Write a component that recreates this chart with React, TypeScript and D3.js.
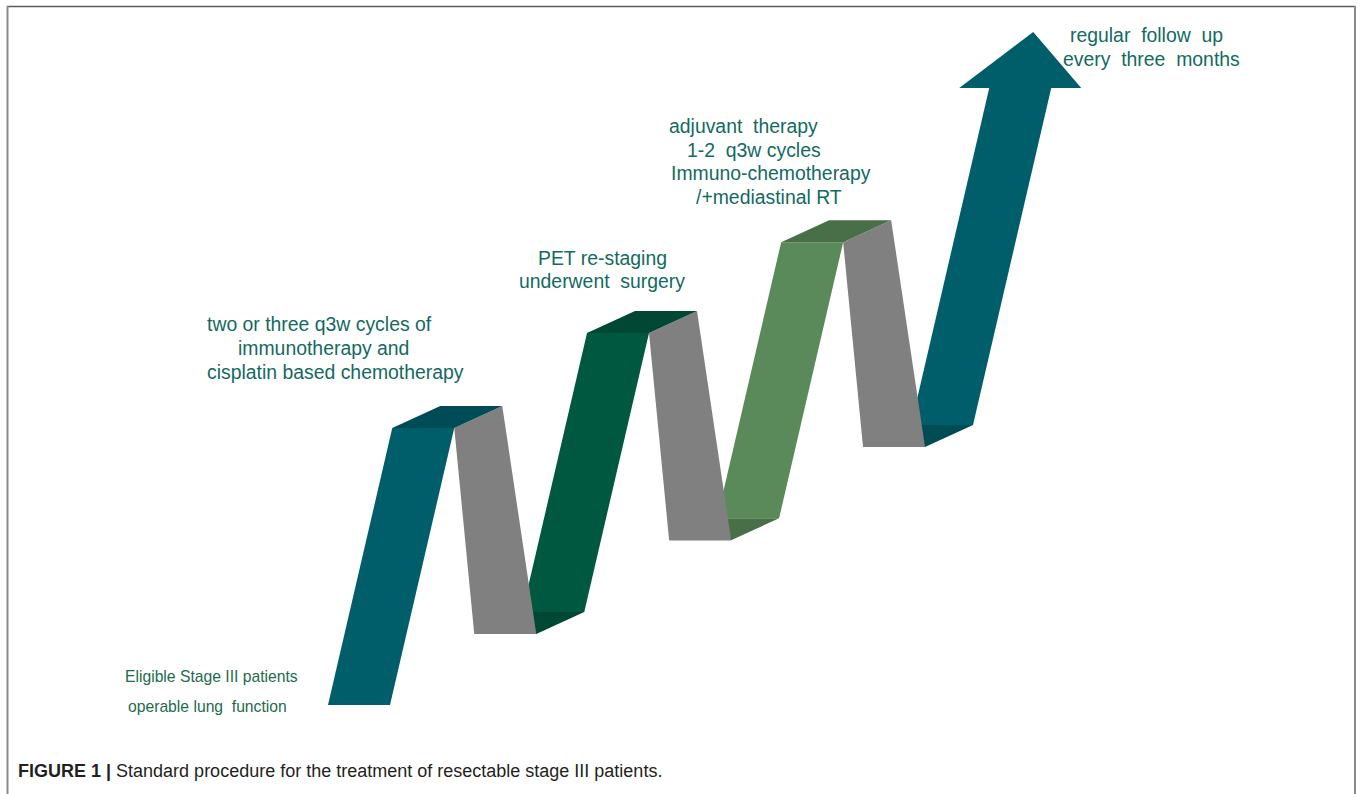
import { line, curveLinearClosed, scaleLinear, color } from "d3";

// progress levels (0 = start of the ribbon, 100 = shaft top of the arrow)
const riserTops = [44.9, 60.3, 75.0, 100];
const descenderBottoms = [11.5, 26.7, 41.8];
const riserColors = ["#005e6a", "#005840", "#5a8a5a", "#005e6a"];
const backColor = "#808080";

const labels = [
  { id: "induction", lines: ["two or three q3w cycles of", "immunotherapy and", "cisplatin based chemotherapy"] },
  { id: "surgery", lines: ["PET re-staging", "underwent  surgery"] },
  { id: "adjuvant", lines: ["adjuvant  therapy", "1-2  q3w cycles", "Immuno-chemotherapy", "/+mediastinal RT"] },
  { id: "followup", lines: ["regular  follow  up", "every  three  months"] },
  { id: "eligible", lines: ["Eligible Stage III patients", "operable lung  function"] }
];

const captionBold = "FIGURE 1 |";
const captionText = " Standard procedure for the treatment of resectable stage III patients.";

const width = 1360;
const height = 794;
const ribbonWidth = 62;
const depth = { x: 48, y: -22 };
const riseLean = 0.232;
const fallLean = 0.097;
const startX = 328;
const headHeight = 56;
const headWing = 30;

const labelLayout: Record<string, { x: number[]; y: number; gap: number; size: number; fill: string }> = {
  induction: { x: [207, 238, 207], y: 331, gap: 24, size: 19.4, fill: "#136a5f" },
  surgery: { x: [538, 519], y: 265, gap: 23, size: 19.4, fill: "#136a5f" },
  adjuvant: { x: [669, 687, 671, 696], y: 133, gap: 23.5, size: 19.4, fill: "#136a5f" },
  followup: { x: [1070, 1063], y: 42, gap: 24, size: 19.4, fill: "#136a5f" },
  eligible: { x: [125, 128], y: 682, gap: 30, size: 15.7, fill: "#1e6b4c" }
};

type Pt = [number, number];
const poly = line<Pt>().curve(curveLinearClosed);

function darker(c: string, k: number) {
  return color(c)?.darker(k).formatHex() ?? c;
}

export default function App() {
  const y = scaleLinear().domain([0, 100]).range([705, 88]);

  const risers: { front: Pt[]; top: Pt[] | null; bottom: Pt[] | null; fill: string }[] = [];
  const backs: Pt[][] = [];
  let x0 = startX;
  let yBottom = y(0);
  let bottomFold: Pt[] | null = null;
  let arrowHead: Pt[] = [];

  riserTops.forEach((lvl, i) => {
    const yTop = y(lvl);
    const xTop = x0 + riseLean * (yBottom - yTop);
    const front: Pt[] = [
      [x0, yBottom],
      [x0 + ribbonWidth, yBottom],
      [xTop + ribbonWidth, yTop],
      [xTop, yTop]
    ];
    const isArrow = i === riserTops.length - 1;
    const top: Pt[] | null = isArrow
      ? null
      : [
          [xTop, yTop],
          [xTop + ribbonWidth, yTop],
          [xTop + ribbonWidth + depth.x, yTop + depth.y],
          [xTop + depth.x, yTop + depth.y]
        ];
    risers.push({ front, top, bottom: bottomFold, fill: riserColors[i] });

    if (isArrow) {
      const cx = xTop + ribbonWidth / 2;
      arrowHead = [
        [xTop - headWing, yTop],
        [cx + riseLean * headHeight, yTop - headHeight],
        [xTop + ribbonWidth + headWing, yTop]
      ];
      return;
    }

    // grey back side going down to the next fold
    const yB = y(descenderBottoms[i]);
    const gx = xTop + ribbonWidth + fallLean * (yB - yTop);
    backs.push([
      [xTop + ribbonWidth, yTop],
      [xTop + ribbonWidth + depth.x, yTop + depth.y],
      [gx + ribbonWidth, yB],
      [gx, yB]
    ]);
    bottomFold = [
      [gx, yB],
      [gx + ribbonWidth, yB],
      [gx + ribbonWidth + depth.x, yB + depth.y],
      [gx + depth.x, yB + depth.y]
    ];
    x0 = gx + depth.x;
    yBottom = yB + depth.y;
  });

  const font = "'Liberation Sans', Arial, sans-serif";

  return (
    <div style={{ position: "fixed", left: 0, top: 0, width, height, background: "#fff" }}>
      <svg width={width} height={height} style={{ display: "block" }}>
        <rect x={0} y={0} width={width} height={height} fill="#fff" />
        <line x1={7} x2={1355.5} y1={6.5} y2={6.5} stroke="#5a5a5a" strokeWidth={1.6} />
        <line x1={7.5} x2={7.5} y1={6} y2={height} stroke="#8a8a8a" strokeWidth={2} />
        <line x1={1355} x2={1355} y1={6} y2={height} stroke="#8a8a8a" strokeWidth={2} />

        {risers.map((r, i) => (
          <g key={`riser-${i}`}>
            {r.bottom ? <path d={poly(r.bottom) ?? ""} fill={darker(r.fill, 0.6)} /> : null}
            <path d={poly(r.front) ?? ""} fill={r.fill} />
            {i === risers.length - 1 ? <path d={poly(arrowHead) ?? ""} fill={r.fill} /> : null}
          </g>
        ))}
        {backs.map((b, i) => (
          <path key={`back-${i}`} d={poly(b) ?? ""} fill={backColor} />
        ))}
        {risers.map((r, i) =>
          r.top ? <path key={`top-${i}`} d={poly(r.top) ?? ""} fill={darker(r.fill, 0.6)} /> : null
        )}

        {labels.map((lab) => {
          const lay = labelLayout[lab.id];
          return (
            <g key={lab.id} fontFamily={font} fontSize={lay.size} fill={lay.fill}>
              {lab.lines.map((t, j) => (
                <text key={j} x={lay.x[j]} y={lay.y + j * lay.gap} style={{ whiteSpace: "pre" }}>
                  {t}
                </text>
              ))}
            </g>
          );
        })}

        <text x={18} y={777} fontFamily={font} fontSize={18} fill="#231f20" style={{ whiteSpace: "pre" }}>
          <tspan fontWeight="bold">{captionBold}</tspan>
          <tspan>{captionText}</tspan>
        </text>
      </svg>
    </div>
  );
}
